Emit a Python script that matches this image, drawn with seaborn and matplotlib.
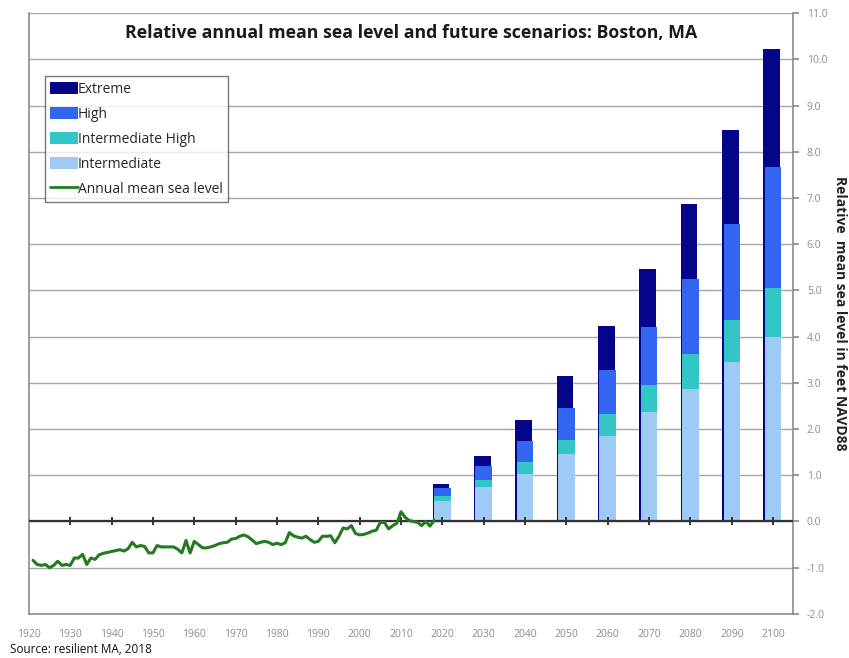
import numpy as np
import pandas as pd
import matplotlib
matplotlib.use("Agg")
import matplotlib.pyplot as plt
from matplotlib.patches import Patch
from matplotlib.lines import Line2D
import seaborn as sns

# Scenario bars (feet NAVD88)
decades = [2020, 2030, 2040, 2050, 2060, 2070, 2080, 2090, 2100]
extreme = [0.82, 1.41, 2.20, 3.14, 4.24, 5.47, 6.86, 8.48, 10.22]
high = [0.72, 1.20, 1.75, 2.46, 3.27, 4.21, 5.25, 6.43, 7.67]
intermediate_high = [0.55, 0.89, 1.28, 1.77, 2.33, 2.96, 3.63, 4.35, 5.06]
intermediate = [0.45, 0.75, 1.03, 1.45, 1.86, 2.37, 2.87, 3.45, 4.00]

# Annual mean sea level 1921-2018
years = list(range(1921, 2019))
msl = [-0.84, -0.93, -0.95, -0.93, -1.00, -0.95, -0.86, -0.95, -0.93,
       -0.95, -0.79, -0.79, -0.71, -0.93, -0.79, -0.82, -0.72, -0.69, -0.67,
       -0.65, -0.63, -0.61, -0.64, -0.59, -0.45, -0.55, -0.52, -0.54, -0.68,
       -0.68, -0.52, -0.55, -0.55, -0.55, -0.55, -0.60, -0.68, -0.41, -0.68,
       -0.43, -0.50, -0.57, -0.57, -0.55, -0.52, -0.48, -0.46, -0.45, -0.38,
       -0.37, -0.32, -0.29, -0.33, -0.40, -0.48, -0.45, -0.43, -0.45, -0.50,
       -0.47, -0.50, -0.46, -0.24, -0.31, -0.34, -0.36, -0.32, -0.39, -0.45,
       -0.43, -0.32, -0.32, -0.31, -0.46, -0.32, -0.14, -0.16, -0.09, -0.26,
       -0.29, -0.28, -0.25, -0.21, -0.19, -0.02, -0.02, -0.16, -0.09, -0.04,
       0.21, 0.09, 0.02, 0.00, -0.02, -0.09, 0.00, -0.10, 0.02]

x_ticks = list(range(1920, 2101, 10))
y_ticks = list(range(-2, 12))

COLORS = {
    "Extreme": "#05058a",
    "High": "#3366f0",
    "Intermediate High": "#33c6c6",
    "Intermediate": "#9dcbf5",
}
LINE_COLOR = "#237a23"
GREY = "#8c8c8c"


def main():
    sns.set_theme(style="white")
    plt.rcParams["font.family"] = ["Open Sans", "DejaVu Sans"]

    fig = plt.figure(figsize=(8.49, 6.58), dpi=100)
    ax = fig.add_axes([0.034, 0.067, 0.900, 0.913])

    # gridlines
    for v in y_ticks:
        ax.axhline(v, color="#a8a8a8", lw=1.0, zorder=0)

    # overlapping bars, extreme at the back, shifted a touch left
    series = [
        ("Extreme", extreme, -0.35),
        ("High", high, 0.0),
        ("Intermediate High", intermediate_high, 0.0),
        ("Intermediate", intermediate, 0.0),
    ]
    for name, vals, shift in series:
        df = pd.DataFrame({"year": [d + shift for d in decades], "val": vals})
        sns.barplot(data=df, x="year", y="val", native_scale=True,
                    width=0.4, color=COLORS[name], saturation=1,
                    linewidth=0, ax=ax, zorder=2)

    # zero axis with decade ticks
    ax.axhline(0, color="#333333", lw=1.6, zorder=3)
    ax.scatter(x_ticks[1:], [0] * len(x_ticks[1:]), marker="|", s=40,
               color="#333333", linewidths=1.4, zorder=4)

    line_df = pd.DataFrame({"year": years, "msl": msl})
    sns.lineplot(data=line_df, x="year", y="msl", color=LINE_COLOR,
                 lw=2.2, ax=ax, zorder=5)

    ax.set_xlim(1920, 2104.8)
    ax.set_ylim(-2, 11)
    ax.set_xticks(x_ticks)
    ax.set_xticklabels([str(t) for t in x_ticks], fontsize=7.5, color=GREY)
    ax.set_yticks(y_ticks)
    ax.set_yticklabels([f"{t:.1f}" for t in y_ticks], fontsize=7.5, color=GREY)
    ax.yaxis.tick_right()
    ax.yaxis.set_label_position("right")
    ax.tick_params(axis="y", length=4, color=GREY, pad=6, right=True)
    ax.tick_params(axis="x", length=0, pad=11)
    ax.set_xlabel("")
    ax.set_ylabel("Relative  mean sea level in feet NAVD88", rotation=-90,
                  fontsize=10, fontweight="bold", labelpad=14, color="#222222")

    for side in ["left", "bottom", "right"]:
        ax.spines[side].set_color(GREY)
        ax.spines[side].set_linewidth(1.2)
    ax.spines["top"].set_visible(False)

    ax.text(0.5, 0.982, "Relative annual mean sea level and future scenarios: Boston, MA",
            transform=ax.transAxes, ha="center", va="top", fontsize=12.8,
            fontweight="bold", color="#1a1a1a")

    handles = [Patch(facecolor=COLORS[n], edgecolor="none") for n in COLORS]
    handles.append(Line2D([0], [0], color=LINE_COLOR, lw=2))
    labels = list(COLORS.keys()) + ["Annual mean sea level"]
    leg = ax.legend(handles, labels, loc="upper left",
                    bbox_to_anchor=(0.021, 0.895), fontsize=10,
                    frameon=True, fancybox=False, handlelength=1.95,
                    handleheight=1.0, handletextpad=0.0, labelspacing=0.72,
                    borderpad=0.4, borderaxespad=0)
    leg.get_frame().set_edgecolor("#555555")
    leg.get_frame().set_linewidth(1.0)

    fig.text(0.012, 0.008, "Source: resilient MA, 2018", fontsize=8.5,
             color="#111111")

    fig.savefig("out.png", dpi=100)


if __name__ == "__main__":
    main()
